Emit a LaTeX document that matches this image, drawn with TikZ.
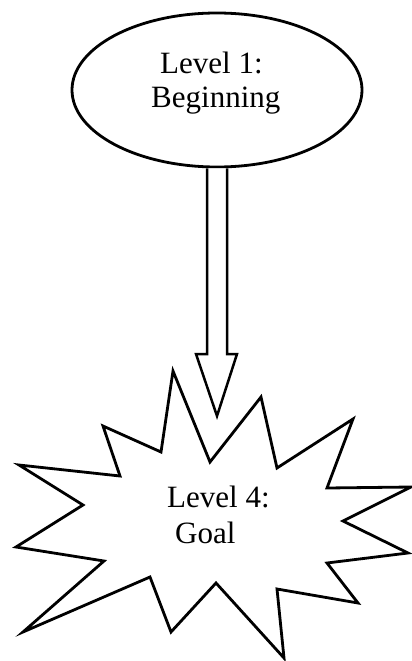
\documentclass[tikz,border=0pt]{standalone}
\usepackage{fontspec}
\setmainfont{Liberation Serif}
\usetikzlibrary{shapes.geometric}
\begin{document}
\begin{tikzpicture}[x=1pt,y=-1pt,
  outline/.style={draw=black,line width=2.8pt,line join=miter,fill=white},
  lbl/.style={inner sep=0pt,anchor=base west,font=\fontsize{31}{33}\selectfont}]
\useasboundingbox (0,0) rectangle (412,661);
% ellipse
\node[ellipse,outline,minimum width=290pt,minimum height=154pt,inner sep=0pt] (start) at (217,90) {};
\node[lbl] (t1) at (160,74) {Level 1:};
\node[lbl] (t2) at (151,107) {Beginning};
% block arrow
\draw[outline,line width=2.5pt] (start.south -| 207,0) -- (207,354) -- (196,354) -- (217,416) coordinate (tip) -- (237,354) -- (227,354) -- (start.south -| 227,0);
% starburst
\draw[outline] (173,371) -- (210,462) -- (261,397) -- (277,468) -- (353,419) -- (327,488)
  -- (411,487) -- (343,521) -- (408,553) -- (327,563) -- (358,603) -- (277,589)
  -- (284,658) -- (216,583) -- (171,632) -- (150,577) -- (23,632) -- (104,561)
  -- (16,547) -- (83,505) -- (19,465) -- (120,476) -- (103,426) -- (161,452) -- cycle;
\coordinate (goal) at (217,515);
\node[lbl] (t3) at (167,507) {Level 4:};
\node[lbl] (t4) at (175,543) {Goal};
\end{tikzpicture}
\end{document}
